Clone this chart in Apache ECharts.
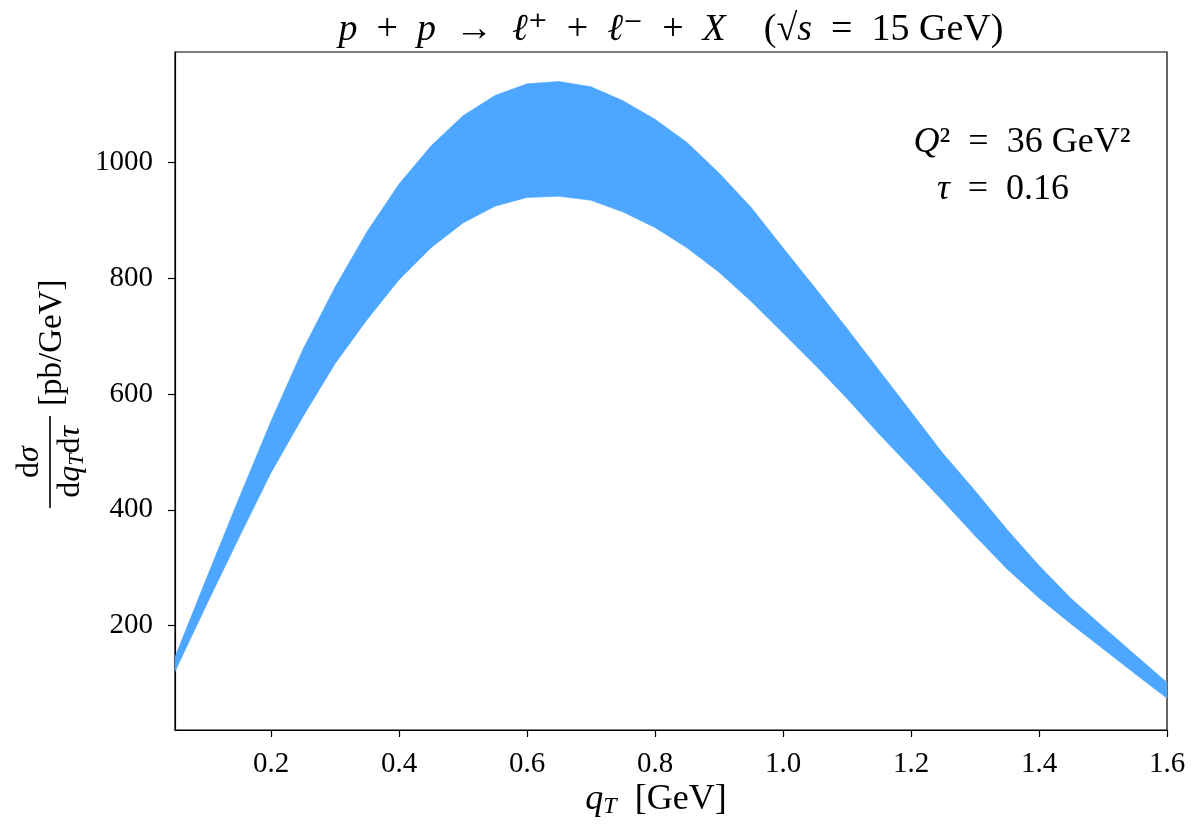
<!DOCTYPE html>
<html>
<head>
<meta charset="utf-8">
<script src="https://cdn.jsdelivr.net/npm/echarts@6/dist/echarts.min.js"></script>
<style>html,body{margin:0;padding:0;background:#fff}#c{width:1196px;height:828px}</style>
</head>
<body>
<div id="c"></div>
<script>
// q_T values [GeV]
const qT = [0.05,0.10,0.15,0.20,0.25,0.30,0.35,0.40,0.45,0.50,0.55,0.60,0.65,0.70,0.75,0.80,
            0.85,0.90,0.95,1.00,1.05,1.10,1.15,1.20,1.25,1.30,1.35,1.40,1.45,1.50,1.55,1.60];
// band edges dσ/(dq_T dτ) [pb/GeV]
const upper = [146,284,420,553,677,784,880,962,1028,1080,1115,1135,1139,1130,1106,1074,
               1034,981,922,852,783,713,641,569,497,433,366,304,247,198,150,102];
const lower = [121,238,352,464,561,652,728,797,852,895,924,939,941,934,914,887,
               852,810,760,705,650,592,531,473,415,355,298,248,203,160,117,75];
const xTicks = [0.2,0.4,0.6,0.8,1.0,1.2,1.4,1.6];
const yTicks = [200,400,600,800,1000];

const F = '"Liberation Serif", "DejaVu Serif", serif';
const bandData = qT.map((x,i)=>[x, lower[i], upper[i]]);

const chart = echarts.init(document.getElementById('c'), null, {renderer:'canvas'});
const r = (size, style) => ({fontFamily:F, fontSize:size, fontStyle:style||'normal', color:'#000', fill:'#000'});

function renderBand(params, api){
  if (params.dataIndex !== 0) return;
  const pts = [];
  for (let i = 0; i < bandData.length; i++) pts.push(api.coord([bandData[i][0], bandData[i][2]]));
  for (let i = bandData.length - 1; i >= 0; i--) pts.push(api.coord([bandData[i][0], bandData[i][1]]));
  return {type:'polygon', shape:{points:pts}, style:{fill:'#4da6ff', stroke:'#4da6ff', lineWidth:0.6}};
}

chart.setOption({
  animation:false,
  backgroundColor:'#fff',
  grid:{left:175, right:29, top:52, bottom:98, show:true, borderColor:'#000', borderWidth:1.2, backgroundColor:'transparent'},
  xAxis:{type:'value', min:0.05, max:1.6,
    axisLine:{show:true, onZero:false, lineStyle:{color:'#000', width:1.2}},
    splitLine:{show:false},
    axisTick:{show:true, inside:false, length:7, lineStyle:{color:'#000', width:1.2}, customValues:xTicks},
    axisLabel:{customValues:xTicks, formatter:v=>v.toFixed(1), fontFamily:F, fontSize:29, color:'#000', margin:20}
  },
  yAxis:{type:'value', min:20, max:1190,
    axisLine:{show:true, onZero:false, lineStyle:{color:'#000', width:1.2}},
    splitLine:{show:false},
    axisTick:{show:true, inside:false, length:7, lineStyle:{color:'#000', width:1.2}, customValues:yTicks},
    axisLabel:{customValues:yTicks, formatter:v=>String(v), fontFamily:F, fontSize:29, color:'#000', margin:22}
  },
  series:[
    {type:'custom', data:bandData, encode:{x:0, y:[1,2]}, renderItem:renderBand, silent:true, clip:true}
  ],
  graphic:[
    {type:'text', x:671, y:30, style:{
      text:'{i|p}{r|  +  }{i|p}{r|  →  }{i|ℓ}{r|⁺  +  }{i|ℓ}{r|⁻  +  }{i|X}{r|    (√}{i|s}{r|  =  15 GeV)}',
      align:'center', verticalAlign:'middle',
      rich:{i:r(38,'italic'), r:r(38)}}},
    {type:'text', x:1022, y:143, style:{
      text:'{i|Q}{r|²  =  36 GeV²}', align:'center', verticalAlign:'middle',
      rich:{i:r(36,'italic'), r:r(36)}}},
    {type:'text', x:1003, y:190, style:{
      text:'{i|τ}{r|  =  0.16}', align:'center', verticalAlign:'middle',
      rich:{i:r(36,'italic'), r:r(36)}}},
    {type:'text', x:656, y:800, style:{
      text:'{i|q}{s|T}{r|  [GeV]}', align:'center', verticalAlign:'middle',
      rich:{i:r(36,'italic'), s:Object.assign(r(24,'italic'),{padding:[14,0,0,0]}), r:r(36)}}},
    {type:'group', x:50, y:462, rotation:Math.PI/2, children:[
      {type:'line', shape:{x1:-46,y1:0,x2:46,y2:0}, style:{stroke:'#000', lineWidth:1.6}},
      {type:'text', x:0, y:-4, style:{text:'{r|d}{i|σ}', align:'center', verticalAlign:'bottom',
        rich:{i:r(32,'italic'), r:r(32)}}},
      {type:'text', x:0, y:4, style:{text:'{r|d}{i|q}{s|T}{r|d}{i|τ}', align:'center', verticalAlign:'top',
        rich:{i:r(32,'italic'), s:Object.assign(r(22,'italic'),{padding:[12,0,0,0]}), r:r(32)}}},
      {type:'text', x:56, y:2, style:{text:'[pb/GeV]', align:'left', verticalAlign:'middle',
        font:'33px '+F, fill:'#000'}}
    ]}
  ]
});
</script>
</body>
</html>
